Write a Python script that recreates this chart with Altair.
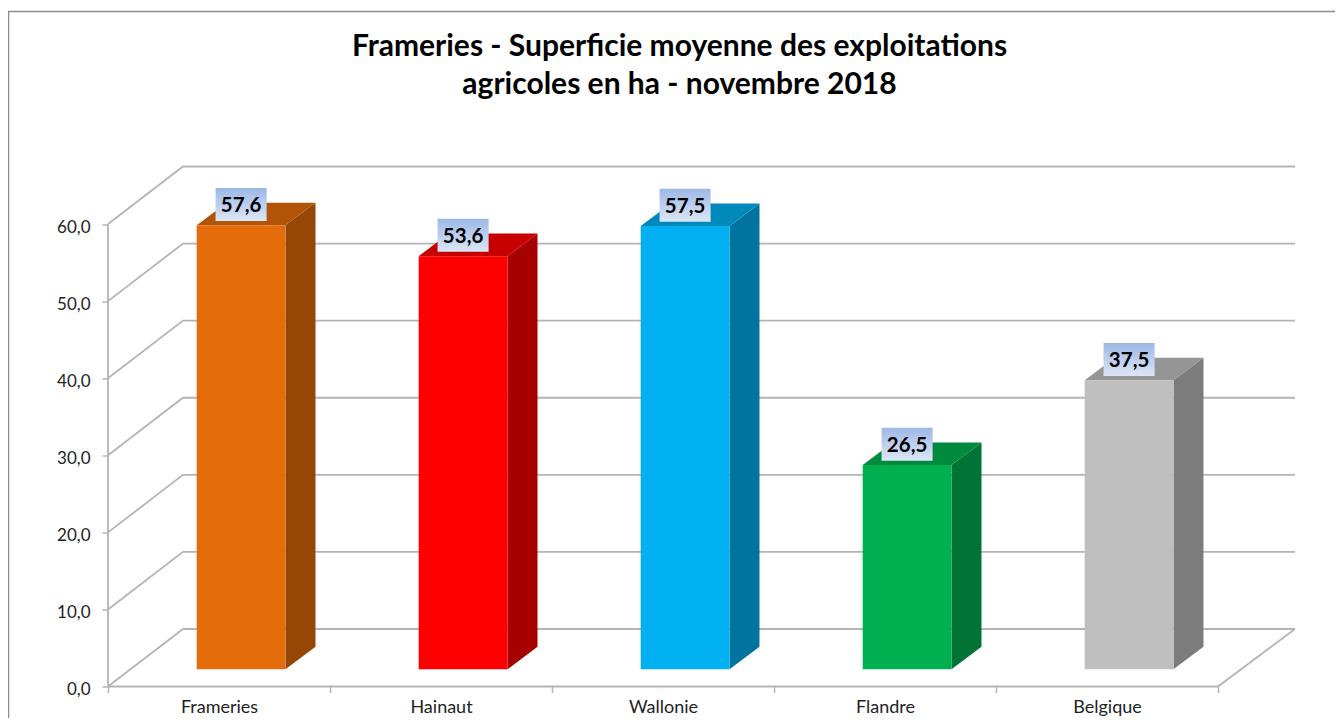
import altair as alt
import pandas as pd

categories = ["Frameries", "Hainaut", "Wallonie", "Flandre", "Belgique"]
values = [57.6, 53.6, 57.5, 26.5, 37.5]
labels = ["57,6", "53,6", "57,5", "26,5", "37,5"]
front_colors = ["#E46C0A", "#FF0000", "#00B0F0", "#00B050", "#BFBFBF"]
side_colors = ["#964706", "#A60000", "#0073A0", "#007335", "#7C7C7C"]
top_colors = ["#B25407", "#C60000", "#0089BB", "#008A3E", "#959595"]
y_ticks = [0, 10, 20, 30, 40, 50, 60]
title_lines = ["Frameries - Superficie moyenne des exploitations",
               "agricoles en ha - novembre 2018"]

# Oblique depth of the 3-D box, in axis units
DEPTH_X = 75 / 222
DEPTH_Y = 520 / 7.708 - 60
BACK_RIGHT = 5 + 77 / 222
BAR_LEFT = 0.3995
BAR_W = 0.4
BAR_BASE = 2.23
SIDE_X = 30 / 222
SIDE_Y = 2.93

FONT = "Lato"
GRID = "#B4B4B4"
x_scale = alt.Scale(domain=[0, BACK_RIGHT], nice=False, zero=False)
y_scale = alt.Scale(domain=[0, 60 + DEPTH_Y], nice=False, zero=False)


def X(axis=None):
    return alt.X("x:Q", scale=x_scale, axis=axis, title=None)


def Y(axis=None):
    return alt.Y("y:Q", scale=y_scale, axis=axis, title=None, stack=None)


# wall and floor lines
grid_rows = []
for v in y_ticks:
    for px, py in [(0, v), (DEPTH_X, v + DEPTH_Y), (BACK_RIGHT, v + DEPTH_Y)]:
        grid_rows.append({"k": f"g{v}", "x": px, "y": py})
for px, py in [(0, 0), (0, 60)]:
    grid_rows.append({"k": "axis", "x": px, "y": py})
for px, py in [(0, 0), (5, 0), (BACK_RIGHT, DEPTH_Y)]:
    grid_rows.append({"k": "floor", "x": px, "y": py})
grid_df = pd.DataFrame(grid_rows)

x_axis = alt.Axis(
    values=[0, 0.5, 1, 1.5, 2, 2.5, 3, 3.5, 4, 4.5, 5],
    domain=False, grid=False, tickColor=GRID, tickSize=6, tickWidth=1.5,
    tickOpacity={"condition": {"test": "datum.value % 1 === 0", "value": 1}, "value": 0},
    labelExpr="datum.value % 1 === 0 ? '' : ['Frameries','Hainaut','Wallonie','Flandre','Belgique'][floor(datum.value)]",
    labelFont=FONT, labelFontSize=18, labelColor="#222222", labelPadding=6, labelFlush=False,
    labelOverlap=False,
)
y_axis = alt.Axis(
    values=y_ticks, domain=False, grid=False, tickColor=GRID, tickSize=6, tickWidth=1.5,
    labelExpr="replace(format(datum.value, '.1f'), '.', ',')",
    labelFont=FONT, labelFontSize=17, labelColor="#222222", labelPadding=12, labelOffset=3,
)

grid = alt.Chart(grid_df).mark_line(color=GRID, strokeWidth=1.8).encode(
    x=X(x_axis), y=Y(y_axis), detail="k:N", order=alt.Order("o:Q")
).transform_window(o="row_number()", groupby=["k"])

# bar faces
front_rows, side_rows, top_rows, box_rows = [], [], [], []
for i, (c, v) in enumerate(zip(categories, values)):
    x0 = i + BAR_LEFT
    x1 = x0 + BAR_W
    front_rows.append({"cat": c, "x": x0, "x2": x1, "y": BAR_BASE, "y2": BAR_BASE + v, "col": front_colors[i]})
    side_rows += [
        {"cat": c, "x": x1, "y": BAR_BASE, "y2": BAR_BASE + v, "col": side_colors[i]},
        {"cat": c, "x": x1 + SIDE_X, "y": BAR_BASE + SIDE_Y, "y2": BAR_BASE + v + SIDE_Y, "col": side_colors[i]},
    ]
    t = BAR_BASE + v
    top_rows += [
        {"cat": c, "x": x0, "y": t, "y2": t, "col": top_colors[i]},
        {"cat": c, "x": x0 + SIDE_X, "y": t, "y2": t + SIDE_Y, "col": top_colors[i]},
        {"cat": c, "x": x1, "y": t, "y2": t + SIDE_Y, "col": top_colors[i]},
        {"cat": c, "x": x1 + SIDE_X, "y": t + SIDE_Y, "y2": t + SIDE_Y, "col": top_colors[i]},
    ]
    cx = (x0 + x1) / 2
    box_rows.append({"cat": c, "x": cx - 0.115, "x2": cx + 0.115, "xc": cx,
                     "y": t + 0.56, "y2": t + 4.84, "yc": t + 2.5, "label": labels[i]})

side = alt.Chart(pd.DataFrame(side_rows)).mark_area(interpolate="linear").encode(
    x=X(), y=Y(), y2="y2:Q", color=alt.Color("col:N", scale=None), detail="cat:N")
top = alt.Chart(pd.DataFrame(top_rows)).mark_area(interpolate="linear").encode(
    x=X(), y=Y(), y2="y2:Q", color=alt.Color("col:N", scale=None), detail="cat:N")
front = alt.Chart(pd.DataFrame(front_rows)).mark_rect().encode(
    x=X(), x2="x2:Q", y=Y(), y2="y2:Q", color=alt.Color("col:N", scale=None))

box_df = pd.DataFrame(box_rows)
box = alt.Chart(box_df).mark_rect(
    color=alt.Gradient(gradient="linear", x1=0, x2=0, y1=0, y2=1,
                       stops=[alt.GradientStop(color="#9DB8E6", offset=0),
                              alt.GradientStop(color="#DCE6F6", offset=1)])
).encode(x=X(), x2="x2:Q", y=Y(), y2="y2:Q")
text = alt.Chart(box_df).mark_text(font=FONT, fontSize=20.5, fontWeight="bold", color="#000000",
                                   align="center", baseline="middle").encode(
    x=alt.X("xc:Q", scale=x_scale, axis=None, title=None),
    y=alt.Y("yc:Q", scale=y_scale, axis=None, title=None),
    text="label:N")

border_left = alt.Chart(pd.DataFrame({"k": [1]})).mark_rule(color="#8C8C8C", strokeWidth=1.5).encode(
    x=alt.value(-99.5), y=alt.value(-155), y2=alt.value(560))
border_top = alt.Chart(pd.DataFrame({"k": [1]})).mark_rule(color="#8C8C8C", strokeWidth=1.5).encode(
    x=alt.value(-100), x2=alt.value(1240), y=alt.value(-155))

chart = alt.layer(border_left, border_top, grid, side, top, front, box, text).resolve_axis(
    x="independent", y="independent"
).properties(
    width=1187, height=520,
    padding={"left": 100, "top": 158.5, "right": 40, "bottom": 31},
    autosize=alt.AutoSizeParams(type="none"),
    background="white",
    title=alt.TitleParams(text=title_lines, anchor="middle", frame="group", dx=-22, offset=-89.5,
                          font=FONT, fontSize=30, fontWeight="bold", color="#000000", lineHeight=38.5),
).configure_view(stroke=None)

chart.save("out.html", embed_options={"renderer": "svg", "actions": False})
